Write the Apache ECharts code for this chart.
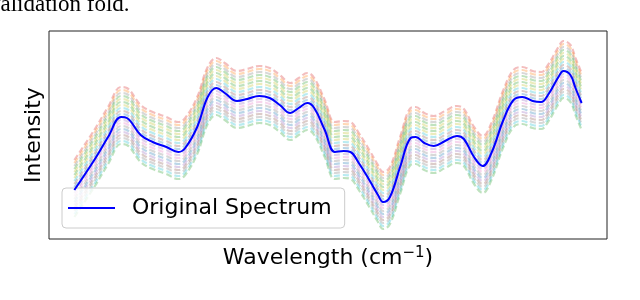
<!DOCTYPE html>
<html>
<head>
<meta charset="utf-8">
<script src="https://cdn.jsdelivr.net/npm/echarts@6/dist/echarts.min.js"></script>
<style>
html,body{margin:0;padding:0;background:#fff;}
#chart{width:640px;height:300px;}
</style>
</head>
<body>
<div id="chart"></div>
<script>
// Wavenumber positions of the sampled spectrum (cm^-1, arbitrary scale)
const wavenumbers = [400,455,493,529,545,583,616,654,687,706,739,768,792,815,849,877,910,939,967,996,1019,1043,1062,1091,1119,1143,1162,1185,1214,1238,1252,1271,1299,1328,1342,1366,1392,1423,1456,1475,1503,1527,1551,1584,1612,1636,1665,1688,1707,1736,1750,1769,1783,1800];
// Original spectrum intensity (arbitrary units)
const originalSpectrum = [0.245,0.395,0.51,0.61,0.605,0.52,0.485,0.46,0.435,0.455,0.56,0.71,0.755,0.73,0.69,0.70,0.715,0.705,0.67,0.63,0.655,0.68,0.655,0.545,0.435,0.44,0.435,0.38,0.295,0.22,0.185,0.21,0.36,0.505,0.51,0.48,0.465,0.49,0.515,0.50,0.41,0.365,0.43,0.595,0.695,0.71,0.69,0.685,0.72,0.81,0.84,0.82,0.755,0.68];
// Vertical shifts of the augmented spectra (top to bottom)
const augmentOffsets = [0.15,0.135,0.12,0.105,0.09,0.075,0.06,0.045,0.03,0.015,0,-0.015,-0.03,-0.045,-0.06,-0.075,-0.09,-0.105,-0.12,-0.135];
const augmentColors = ['#d62728','#ff7f0e','#7f7f7f','#2ca02c','#bcbd22','#2ca02c','#bcbd22','#17becf','#8c564b','#1f77b4','#9467bd','#9467bd','#e377c2','#7f7f7f','#1f77b4','#9467bd','#8c564b','#7f7f7f','#17becf','#2ca02c'];

const chart = echarts.init(document.getElementById('chart'), null, {renderer:'canvas'});

const series = [];
augmentOffsets.forEach((off, k) => {
  series.push({
    name: 'aug' + k,
    type: 'line',
    data: wavenumbers.map((x, i) => [x, originalSpectrum[i] + off]),
    symbol: 'none',
    smooth: 0.4,
    silent: true,
    z: 2,
    lineStyle: {color: augmentColors[k], width: 2.2, opacity: 0.3, type: [6, 3]}
  });
});
series.push({
  name: 'Original Spectrum',
  type: 'line',
  data: wavenumbers.map((x, i) => [x, originalSpectrum[i]]),
  symbol: 'none',
  smooth: 0.4,
  z: 5,
  color: '#0000ff',
  lineStyle: {color: '#0000ff', width: 2}
});

chart.setOption({
  animation: false,
  backgroundColor: '#ffffff',
  grid: {left: 49, top: 31, width: 558, height: 208, show: true, borderColor: '#222', borderWidth: 1, backgroundColor: 'transparent', containLabel: false},
  xAxis: {
    type: 'value', min: 330, max: 1870,
    axisLine: {show: false}, axisTick: {show: false}, axisLabel: {show: false}, splitLine: {show: false},
    name: 'Wavelength (cm{sup|−1})',
    nameLocation: 'middle', nameGap: 7,
    nameTextStyle: {
      fontFamily: 'DejaVu Sans', fontSize: 22, color: '#000', verticalAlign: 'top',
      rich: {sup: {fontFamily: 'DejaVu Sans', fontSize: 15, color: '#000', padding: [0, 0, 10, 0]}}
    }
  },
  yAxis: {
    type: 'value', min: 0, max: 1.04,
    axisLine: {show: false}, axisTick: {show: false}, axisLabel: {show: false}, splitLine: {show: false},
    name: 'Intensity', nameLocation: 'middle', nameGap: 4,
    nameTextStyle: {fontFamily: 'DejaVu Sans', fontSize: 22, color: '#000', verticalAlign: 'bottom'}
  },
  legend: {
    data: ['Original Spectrum'],
    left: 62, top: 188,
    orient: 'vertical',
    padding: [7, 13, 7, 6],
    icon: 'rect', itemWidth: 47, itemHeight: 2,
    backgroundColor: 'rgba(255,255,255,0.8)',
    borderColor: '#cccccc', borderWidth: 1, borderRadius: 4,
    textStyle: {fontFamily: 'DejaVu Sans', fontSize: 22, color: '#000', padding: [0, 0, 0, 12], lineHeight: 26},
    selectedMode: false
  },
  graphic: [{
    type: 'text', left: -11, top: -7, silent: true,
    style: {text: 'validation fold.', font: '23px "Liberation Serif"', fill: '#000'}
  }],
  series: series
});
</script>
</body>
</html>
